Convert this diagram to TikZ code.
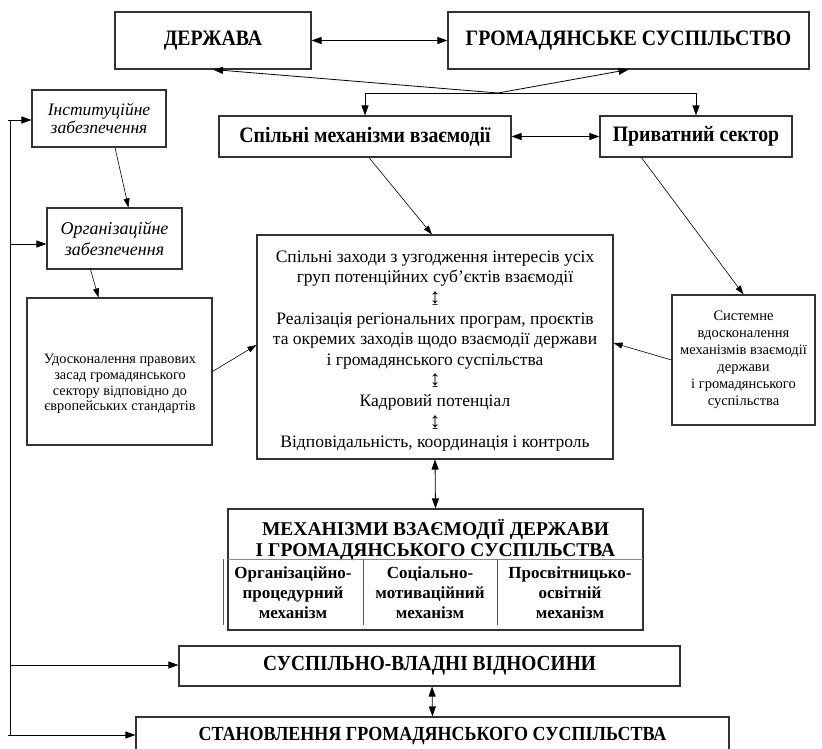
\documentclass[tikz,border=0pt]{standalone}
\usepackage{fontspec}
\setmainfont{Liberation Serif}
\newfontfamily\condf[FakeStretch=0.9]{Liberation Serif}
\usetikzlibrary{arrows.meta}
\newcommand\updn{{\fontsize{21}{20.6}\selectfont ↨}}
\begin{document}
\begin{tikzpicture}[x=1pt,y=-1pt,
  box/.style={draw=black!80,line width=1.1pt,inner sep=0pt,align=center},
  arr/.style={-{Triangle[length=10pt,width=7pt]},line width=0.8pt},
  darr/.style={{Triangle[length=10pt,width=7pt]}-{Triangle[length=10pt,width=7pt]},line width=0.8pt},
  tarr/.style={-{Triangle[length=9pt,width=6pt]},line width=0.6pt},
  big/.style={font=\condf\bfseries\fontsize{22}{24}\selectfont},
  mid/.style={font=\condf\bfseries\fontsize{22}{24}\selectfont},
  col/.style={font=\bfseries\fontsize{17}{20}\selectfont,align=center,inner sep=0pt}
  ]
\useasboundingbox (0,0) rectangle (822,749);
\fill[white] (0,0) rectangle (822,749);

\node[box,big,minimum width=196,minimum height=57] (derzh) at (213,40.5) {ДЕРЖАВА};
\node[box,big,minimum width=361,minimum height=57] (grom) at (628.5,40.5) {ГРОМАДЯНСЬКЕ СУСПІЛЬСТВО};
\node[box,mid,minimum width=292,minimum height=41] (spil) at (365,136.5) {Спільні механізми взаємодії};
\node[box,mid,minimum width=192,minimum height=41] (pryv) at (696,136.5) {Приватний сектор};
\node[box,font=\itshape\fontsize{17.5}{18.5}\selectfont,minimum width=134,minimum height=57] (inst) at (99,118.5) {Інституційне\\забезпечення};
\node[box,font=\itshape\fontsize{18}{21.5}\selectfont,minimum width=135,minimum height=61] (org) at (114.5,238.5) {Організаційне\\забезпечення};
\node[box,minimum width=185,minimum height=147] (udos) at (119.5,371.5) {};
\node[align=center,inner sep=0pt,font=\fontsize{14.3}{15.7}\selectfont] (udost) at (120,384) {Удосконалення правових\\засад громадянського\\сектору відповідно до\\європейських стандартів};
\node[box,minimum width=356,minimum height=224] (cent) at (435,347) {};
\node[align=center,inner sep=0pt,font=\fontsize{17.5}{20.6}\selectfont] (centt) at (435,351) {Спільні заходи з узгодження інтересів усіх\\груп потенційних суб’єктів взаємодії\\\updn\\Реалізація регіональних програм, проєктів\\та окремих заходів щодо взаємодії держави\\і громадянського суспільства\\\updn\\Кадровий потенціал\\\updn\\Відповідальність, координація і контроль};
\node[box,font=\fontsize{14.5}{17}\selectfont,minimum width=143,minimum height=130] (sys) at (743.5,360) {Системне\\вдосконалення\\механізмів взаємодії\\держави\\і громадянського\\суспільства};

\node[box,minimum width=415,minimum height=121] (mech) at (435.5,569.5) {};
\node[font=\bfseries\fontsize{19.5}{21}\selectfont,align=center,inner sep=0pt] (mecht) at (435.5,540) {МЕХАНІЗМИ ВЗАЄМОДІЇ ДЕРЖАВИ\\І ГРОМАДЯНСЬКОГО СУСПІЛЬСТВА};
\draw[black!45,line width=0.8pt] (228,559) -- (643,559);
\draw[black!65,line width=0.9pt] (223,559) -- (223,625) (363,559) -- (363,625) (497,559) -- (497,625);
\node[col] (c1) at (293,593) {Організаційно-\\процедурний\\механізм};
\node[col] (c2) at (430,593) {Соціально-\\мотиваційний\\механізм};
\node[col] (c3) at (570,593) {Просвітницько-\\освітній\\механізм};

\node[box,font=\condf\bfseries\fontsize{21.5}{23}\selectfont,minimum width=501,minimum height=40] (susp) at (429.5,666) {СУСПІЛЬНО-ВЛАДНІ ВІДНОСИНИ};
\node[box,font=\condf\bfseries\fontsize{20}{22}\selectfont,minimum width=593,minimum height=38] (stan) at (432.5,736) {СТАНОВЛЕННЯ ГРОМАДЯНСЬКОГО СУСПІЛЬСТВА};

% top connectors
\draw[darr] (derzh.east) -- (grom.west);
\coordinate (J) at (498,93);
\draw[arr] (J) -- (derzh.south);
\draw[arr] (J) -- (grom.south);
\draw[arr] (J) -| (spil.north);
\draw[arr] (J) -| (pryv.north);
\draw[darr] (spil.east) -- (pryv.west);
\draw[tarr] ([xshift=4pt]spil.south) -- ([xshift=-3pt]cent.north);
\draw[tarr] ([xshift=42pt]pryv.south west) -- (sys.north);
\draw[tarr] ([xshift=16pt]inst.south) -- ([xshift=14pt]org.north);
\draw[tarr] ([xshift=-24pt]org.south) -- ([xshift=-21pt]udos.north);
\draw[tarr] (udos.east) -- ([yshift=2pt]cent.west);
\draw[tarr] (sys.west) -- ([yshift=4pt]cent.east);
\draw[darr] (cent.south) -- (mech.north);
\draw[darr] ([xshift=2.5pt]susp.south) -- (stan.north);

% left feedback line
\coordinate (L1) at (10,120);
\coordinate (L2) at (10,244);
\coordinate (L3) at (10,665);
\coordinate (L4) at (10,735);
\draw[line width=0.8pt] (L1) -- (L4);
\draw[arr] ([xshift=-2pt]L1) -- (inst.west |- L1);
\draw[arr] (L2) -- (org.west |- L2);
\draw[arr] (L3) -- (susp.west |- L3);
\draw[arr] ([xshift=-2pt]L4) -- (stan.west |- L4);
\end{tikzpicture}
\end{document}
